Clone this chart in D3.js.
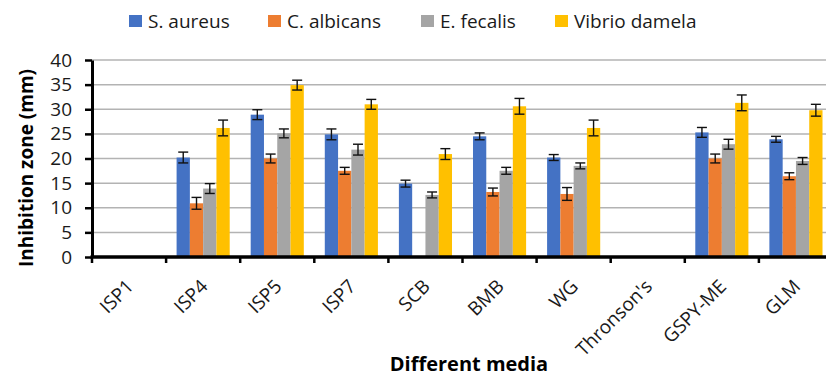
<!DOCTYPE html>
<html>
<head>
<meta charset="utf-8">
<script src="https://cdn.jsdelivr.net/npm/d3@7"></script>
<style>
  body { margin: 0; background: #fff; }
  svg { display: block; }
  .tick-label { font-family: "Open Sans", sans-serif; font-size: 19px; fill: #1a1a1a; }
  .axis-title { font-family: "Open Sans", sans-serif; font-weight: bold; fill: #000; }
</style>
</head>
<body>
<svg></svg>
<script>
const WIDTH = 826;
const HEIGHT = 377;

const categories = ['ISP1', 'ISP4', 'ISP5', 'ISP7', 'SCB', 'BMB', 'WG', "Thronson's", 'GSPY-ME', 'GLM'];
const seriesNames = ['S. aureus', 'C. albicans', 'E. fecalis', 'Vibrio damela'];
const seriesColors = ['#4472C4', '#ED7D31', '#A5A5A5', '#FFC000'];

// mean inhibition zone (mm) and error, per medium
const sAureus = [0, 20.2, 28.9, 24.9, 14.9, 24.5, 20.2, 0, 25.3, 23.9];
const sAureusErr = [0, 1.1, 1.0, 1.1, 0.7, 0.7, 0.6, 0, 1.0, 0.6];
const cAlbicans = [0, 10.9, 20.0, 17.5, 0, 13.2, 12.8, 0, 20.0, 16.4];
const cAlbicansErr = [0, 1.2, 0.9, 0.7, 0, 0.8, 1.3, 0, 0.9, 0.7];
const eFecalis = [0, 13.9, 25.1, 21.8, 12.6, 17.5, 18.5, 0, 22.9, 19.5];
const eFecalisErr = [0, 1.0, 0.9, 1.1, 0.6, 0.7, 0.6, 0, 1.0, 0.7];
const vibrio = [0, 26.2, 34.9, 31.0, 20.9, 30.6, 26.2, 0, 31.3, 29.8];
const vibrioErr = [0, 1.6, 1.0, 1.0, 1.1, 1.6, 1.6, 0, 1.6, 1.2];

const yTicks = [0, 5, 10, 15, 20, 25, 30, 35, 40];

const seriesValues = [sAureus, cAlbicans, eFecalis, vibrio];
const seriesErrors = [sAureusErr, cAlbicansErr, eFecalisErr, vibrioErr];

const plotLeft = 92;
const plotTop = 60;
const plotBottom = 257;
const step = 74.1;

const svg = d3.select('svg')
    .attr('width', WIDTH)
    .attr('height', HEIGHT);

const x = d3.scaleBand()
    .domain(categories)
    .range([plotLeft, plotLeft + step * categories.length]);

const xSub = d3.scaleBand()
    .domain(seriesNames)
    .range([0, x.bandwidth()])
    .paddingOuter(0.79);

const y = d3.scaleLinear()
    .domain([0, 40])
    .range([plotBottom, plotTop]);

// gridlines
svg.append('g')
  .selectAll('line')
  .data(yTicks.filter((d) => d > 0))
  .join('line')
    .attr('x1', plotLeft)
    .attr('x2', WIDTH)
    .attr('y1', (d) => y(d))
    .attr('y2', (d) => y(d))
    .attr('stroke', '#b3b3b3')
    .attr('stroke-width', 1.5);

// bars, one group per category
const rows = categories.map((c, i) => seriesNames.map((s, j) => ({
  cat: c, series: s, j: j, value: seriesValues[j][i], err: seriesErrors[j][i],
})));

const groups = svg.append('g')
  .selectAll('g')
  .data(rows)
  .join('g')
    .attr('transform', (d, i) => `translate(${x(categories[i])},0)`);

groups.selectAll('rect')
  .data((d) => d.filter((e) => e.value > 0))
  .join('rect')
    .attr('x', (d) => xSub(d.series))
    .attr('width', xSub.bandwidth())
    .attr('y', (d) => y(d.value))
    .attr('height', (d) => y(0) - y(d.value))
    .attr('fill', (d) => seriesColors[d.j]);

// error bars
const errs = groups.selectAll('g.err')
  .data((d) => d.filter((e) => e.err > 0))
  .join('g')
    .attr('class', 'err')
    .attr('stroke', '#111')
    .attr('stroke-width', 1.4);

const cx = (d) => xSub(d.series) + xSub.bandwidth() / 2;
errs.append('line')
    .attr('x1', cx).attr('x2', cx)
    .attr('y1', (d) => y(d.value - d.err))
    .attr('y2', (d) => y(d.value + d.err));
errs.append('line')
    .attr('x1', (d) => cx(d) - 5).attr('x2', (d) => cx(d) + 5)
    .attr('y1', (d) => y(d.value + d.err))
    .attr('y2', (d) => y(d.value + d.err));
errs.append('line')
    .attr('x1', (d) => cx(d) - 5).attr('x2', (d) => cx(d) + 5)
    .attr('y1', (d) => y(d.value - d.err))
    .attr('y2', (d) => y(d.value - d.err));

// y axis
const yAxis = svg.append('g')
    .attr('transform', `translate(${plotLeft},0)`)
    .call(d3.axisLeft(y).tickValues(yTicks).tickSize(7).tickPadding(13).tickSizeOuter(0));
yAxis.attr('font-size', null).attr('font-family', null);
yAxis.select('.domain').attr('stroke', '#000').attr('stroke-width', 3);
yAxis.selectAll('.tick line').attr('stroke', '#000').attr('stroke-width', 2.5);
yAxis.selectAll('.tick text').attr('class', 'tick-label');

// x axis: line plus ticks at category boundaries
svg.append('line')
    .attr('x1', plotLeft - 1.5)
    .attr('x2', WIDTH)
    .attr('y1', y(0))
    .attr('y2', y(0))
    .attr('stroke', '#000')
    .attr('stroke-width', 3.5);

svg.append('g')
  .selectAll('line')
  .data(categories)
  .join('line')
    .attr('x1', (d) => x(d))
    .attr('x2', (d) => x(d))
    .attr('y1', y(0))
    .attr('y2', y(0) + 6)
    .attr('stroke', '#000')
    .attr('stroke-width', 2.5);

svg.append('g')
  .selectAll('text')
  .data(categories)
  .join('text')
    .attr('class', 'tick-label')
    .attr('transform', (d) => `translate(${x(d) + x.bandwidth() / 2 - 4},278) rotate(-45)`)
    .attr('text-anchor', 'end')
    .attr('dy', '0.72em')
    .text((d) => d);

// axis titles
svg.append('text')
    .attr('class', 'axis-title')
    .attr('transform', 'translate(26,168) rotate(-90)')
    .attr('text-anchor', 'middle')
    .attr('dy', '0.35em')
    .attr('font-size', 19)
    .text('Inhibition zone (mm)');

svg.append('text')
    .attr('class', 'axis-title')
    .attr('x', 469)
    .attr('y', 371)
    .attr('text-anchor', 'middle')
    .attr('font-size', 20)
    .text('Different media');

// legend
const legendX = [129, 268, 421, 555];
const legend = svg.append('g')
  .selectAll('g')
  .data(seriesNames)
  .join('g')
    .attr('transform', (d, i) => `translate(${legendX[i]},15)`);
legend.append('rect')
    .attr('width', 13)
    .attr('height', 12)
    .attr('fill', (d, i) => seriesColors[i]);
legend.append('text')
    .attr('class', 'tick-label')
    .attr('x', 19)
    .attr('y', 13)
    .text((d) => d);
</script>
</body>
</html>
